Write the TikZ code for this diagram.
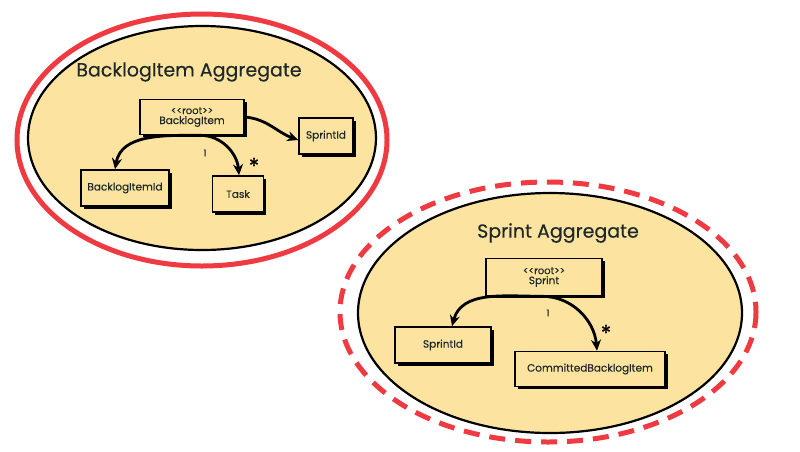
\documentclass[tikz,border=0pt]{standalone}
\usepackage{fontspec}
\setmainfont{Poppins}[FakeBold=0.3]
\usetikzlibrary{arrows.meta,shadows}
\definecolor{aggfill}{RGB}{252,228,160}
\definecolor{aggred}{RGB}{240,58,66}
\definecolor{txt}{RGB}{30,40,40}
\begin{document}
\begin{tikzpicture}[x=1pt,y=-1pt,
  entity/.style={draw=black,line width=1.6pt,fill=aggfill,inner sep=1pt,
    font=\fontsize{10.5}{11}\selectfont,text=txt,align=center,
    drop shadow={shadow xshift=2.5pt,shadow yshift=-2.5pt,fill=black,opacity=1}},
  title/.style={font=\fontsize{19}{22}\selectfont,text=txt},
  assoc/.style={line width=2.8pt,-{Stealth[length=11pt,width=10pt]}},
  mult/.style={font=\fontsize{9.5}{10}\selectfont,text=txt,inner sep=0pt},
  star/.style={font=\fontsize{22}{22}\selectfont,inner sep=0pt}]
\useasboundingbox (0,0) rectangle (800,451);
\fill[white] (0,0) rectangle (800,451);
% top aggregate
\draw[aggred,line width=5pt] (202,140) ellipse [x radius=185,y radius=126];
\draw[black,line width=2.2pt,fill=aggfill] (202,138) ellipse [x radius=174,y radius=112];
\node[title] (t1) at (189,72) {BacklogItem Aggregate};
\node[entity,minimum width=104pt,minimum height=35pt] (bi) at (192,117) {\fontsize{10}{9}\selectfont{<}{<}root{>}{>}\\[-1pt]BacklogItem};
\node[entity,minimum width=54pt,minimum height=36pt] (sid1) at (326,136) {SprintId};
\node[entity,minimum width=88pt,minimum height=36pt] (bid) at (125,188) {BacklogItemId};
\node[entity,minimum width=51pt,minimum height=36pt] (task) at (238,194) {Task};
\draw[assoc] (bi.east) to[out=-5,in=160] ([yshift=-4pt]sid1.west);
\draw[assoc] ([xshift=8pt]bi.south) to[out=180,in=80] ([xshift=-10pt]bid.north);
\draw[assoc] ([xshift=8pt]bi.south) to[out=0,in=95] ([xshift=1pt]task.north);
\node[mult] (m1) at (205,153) {1};
\node[star] (s1) at (254,166) {*};
% bottom aggregate
\draw[aggred,line width=5pt,dash pattern=on 16pt off 10pt] (548,312) ellipse [x radius=208,y radius=130];
\draw[black,line width=2.2pt,fill=aggfill] (550,313) ellipse [x radius=192,y radius=120];
\node[title] (t2) at (558,233) {Sprint Aggregate};
\node[entity,minimum width=116pt,minimum height=37pt] (sp) at (544,277) {\fontsize{10}{9}\selectfont{<}{<}root{>}{>}\\[-1pt]Sprint};
\node[entity,minimum width=96pt,minimum height=36pt] (sid2) at (443,345) {SprintId};
\node[entity,minimum width=150pt,minimum height=35pt] (cbi) at (590,369) {CommittedBacklogItem};
\draw[assoc] ([xshift=-2pt]sp.south) to[out=180,in=75] ([xshift=9pt]sid2.north);
\draw[assoc] ([xshift=-2pt]sp.south) to[out=0,in=95] ([xshift=7pt]cbi.north);
\node[mult] (m2) at (548,313) {1};
\node[star] (s2) at (606,333) {*};
\end{tikzpicture}
\end{document}
